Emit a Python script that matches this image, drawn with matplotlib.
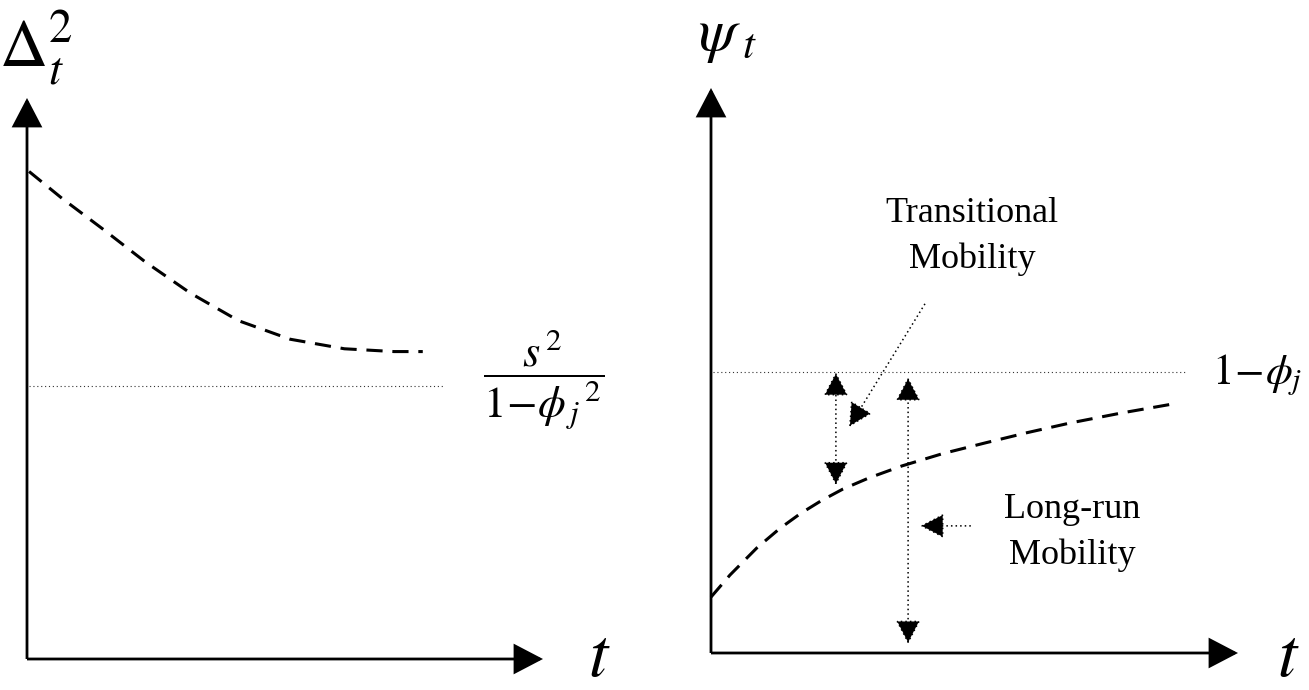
import matplotlib
matplotlib.use("Agg")
import matplotlib.pyplot as plt

plt.rcParams['font.family'] = ['Liberation Serif', 'DejaVu Serif']
plt.rcParams['mathtext.fontset'] = 'stix'

# Left panel: dispersion Delta_t^2 converging down to its limit
left_t = [0.04, 0.68, 1.49, 2.29, 3.17, 4.10, 5.10, 6.15, 7.11, 7.67]
left_delta = [8.69, 8.21, 7.65, 7.08, 6.52, 6.03, 5.70, 5.53, 5.48, 5.48]
left_limit = 4.87
left_limit_end = 8.06

# Right panel: psi_t rising toward 1 - phi_j
right_t = [0.0, 0.36, 0.87, 1.3, 1.7, 2.1, 2.5, 3.0, 3.62, 4.4, 5.21, 6.0,
           6.81, 7.8, 8.84]
right_psi = [0.99, 1.38, 1.86, 2.2, 2.47, 2.7, 2.9, 3.1, 3.31, 3.53, 3.72,
             3.9, 4.07, 4.25, 4.42]
right_limit = 4.97
right_limit_end = 9.03

# annotation arrows on the right panel: (x, y_top, y_bottom)
transitional_arrow = (2.37, 4.97, 2.97)
longrun_arrow = (3.74, 4.88, 0.16)
transitional_pointer = [(4.06, 6.18), (2.62, 4.00)]
longrun_pointer = [(4.93, 2.25), (3.97, 2.25)]

W, H = 1309, 690
fig = plt.figure(figsize=(W / 100, H / 100), dpi=100)

ax1 = fig.add_axes([27 / W, (H - 659) / H, 516 / W, 561 / H])
ax2 = fig.add_axes([711 / W, (H - 653) / H, 527 / W, 565 / H])

AXIS_HEAD = '-|>,head_length=18,head_width=9.4'
SMALL_HEAD = '-|>,head_length=15,head_width=7.8'
DOUBLE_HEAD = '<|-|>,head_length=15,head_width=7.8'
DOTS = (0, (1, 2))


def arrow(ax, start, end, style, lw=2.0, ls='-'):
    ax.annotate('', xy=end, xytext=start, annotation_clip=False,
                arrowprops=dict(arrowstyle=style, lw=lw, ls=ls, color='black',
                                shrinkA=0, shrinkB=0, mutation_scale=1,
                                joinstyle='miter', capstyle='butt'))


for ax in (ax1, ax2):
    ax.set_xlim(0, 10)
    ax.set_ylim(0, 10)
    ax.axis('off')
    arrow(ax, (0, 0), (10, 0), AXIS_HEAD)
    arrow(ax, (0, 0), (0, 10), AXIS_HEAD)

# ---- left panel
ax1.plot(left_t, left_delta, color='black', lw=2.2, ls=(0, (5.3, 3.2)),
         clip_on=False)
ax1.plot([0.04, left_limit_end], [left_limit, left_limit], color='#333333',
         lw=0.8, ls=(0, (1, 2.5)), clip_on=False)
ax1.text(0.17, 10.89, r'$\Delta_t^2$', fontsize=48, ha='center', va='center')
ax1.text(11.10, -0.30, r'$t$', fontsize=50, ha='center', va='baseline')
ax1.text(10.02, 4.97, r'$\dfrac{s^{\,2}}{1\!-\!\phi_{\,j}{}^{\,2}}$',
         fontsize=32, ha='center', va='center')

# ---- right panel
ax2.plot(right_t, right_psi, color='black', lw=2.2, ls=(0, (5.3, 3.2)),
         clip_on=False)
ax2.plot([0.04, right_limit_end], [right_limit, right_limit], color='#333333',
         lw=0.8, ls=(0, (1, 2.5)), clip_on=False)
ax2.text(0.32, 10.9, r'$\psi_{\;t}$', fontsize=44, ha='center', va='center')
ax2.text(10.95, -0.40, r'$t$', fontsize=50, ha='center', va='baseline')
ax2.text(9.50, 4.92, r'$1\!-\!\phi_j$', fontsize=31, ha='left',
         va='center')

x, y0, y1 = transitional_arrow
arrow(ax2, (x, y1), (x, y0), DOUBLE_HEAD, lw=1.1, ls=DOTS)
x, y0, y1 = longrun_arrow
arrow(ax2, (x, y1), (x, y0), DOUBLE_HEAD, lw=1.1, ls=DOTS)
arrow(ax2, transitional_pointer[0], transitional_pointer[1], SMALL_HEAD,
      lw=1.1, ls=DOTS)
arrow(ax2, longrun_pointer[0], longrun_pointer[1], SMALL_HEAD, lw=1.1, ls=DOTS)

ax2.text(4.95, 7.63, 'Transitional', fontsize=26, ha='center', va='baseline')
ax2.text(4.95, 6.81, 'Mobility', fontsize=26, ha='center', va='baseline')
ax2.text(6.85, 2.39, 'Long-run', fontsize=26, ha='center', va='baseline')
ax2.text(6.85, 1.58, 'Mobility', fontsize=26, ha='center', va='baseline')

fig.savefig('out.png', dpi=100)
